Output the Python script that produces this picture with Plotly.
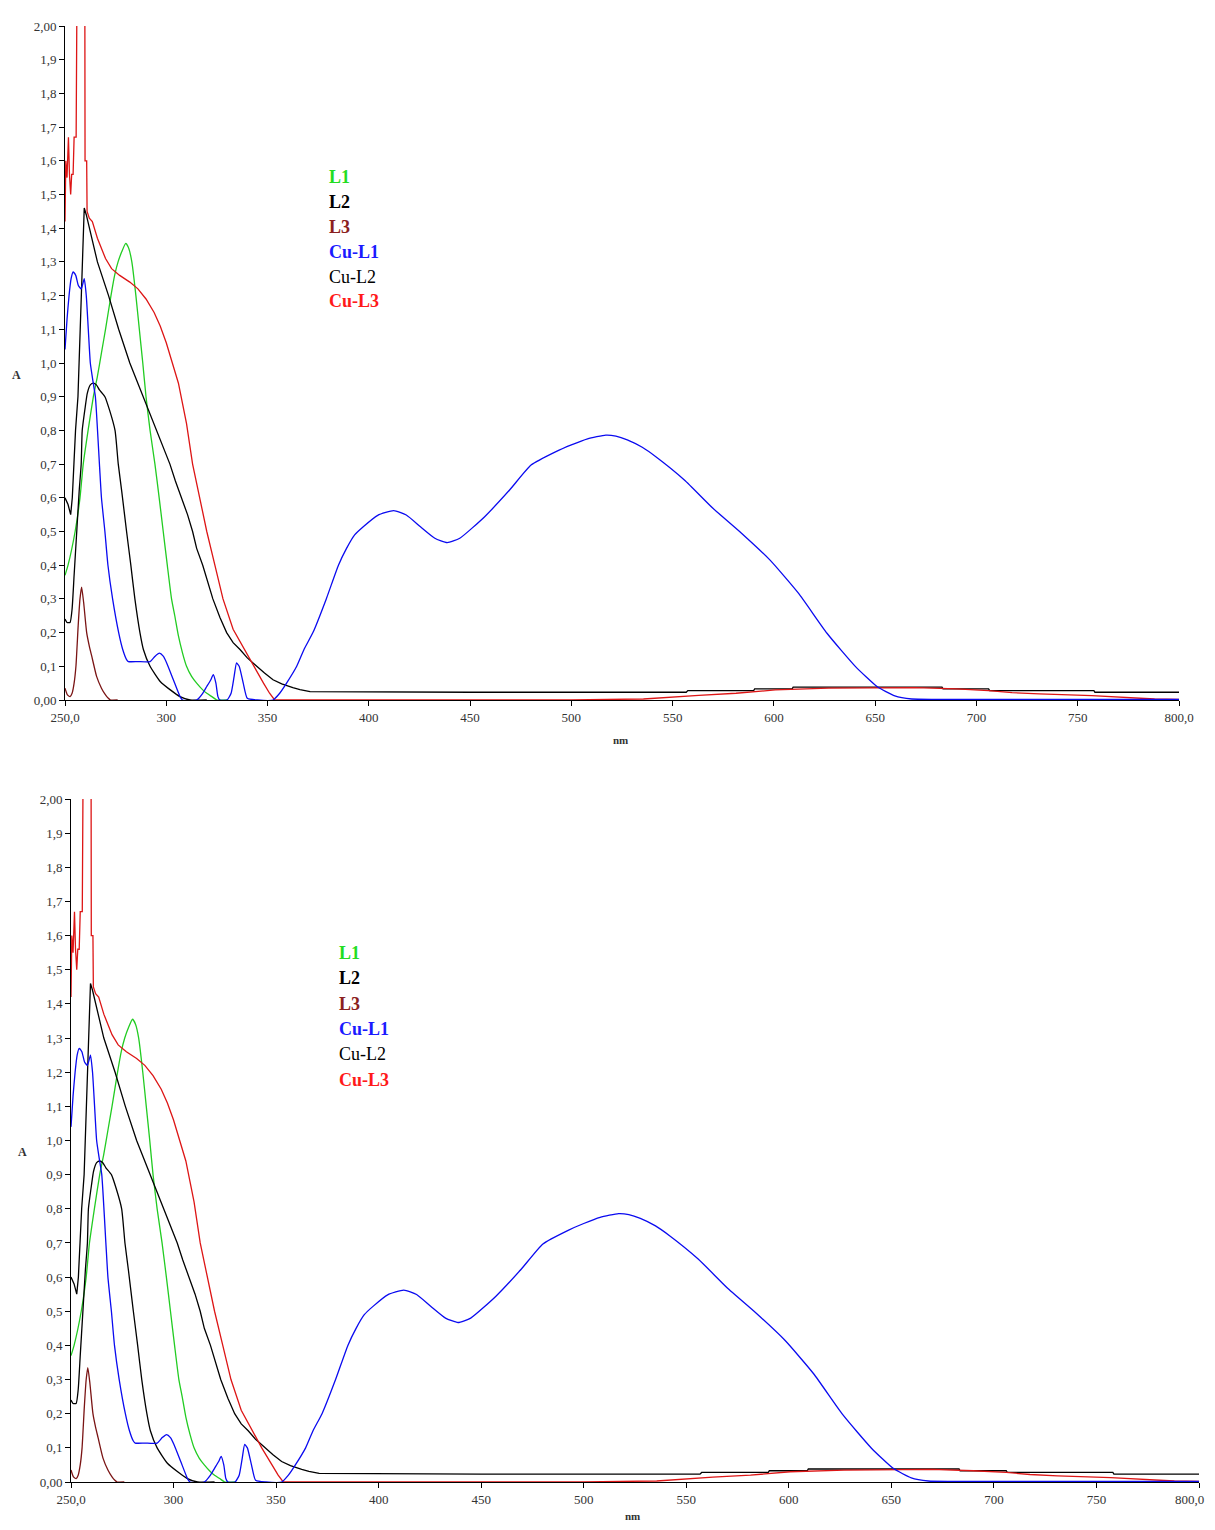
import plotly.graph_objects as go

# ---------------- data ----------------
L1_nm = [250, 251.5, 255, 257.4, 259, 261.4, 264, 266, 268, 270, 272.7, 274.5, 276.2, 278, 280,
         281.5, 283, 285, 286.7, 288.4, 290, 292, 294.4, 296.5, 298.5, 300.5, 302.6, 304.2, 306,
         308, 310, 312.5, 315, 318, 320, 322.5, 325, 330]
L1_A = [0.37, 0.40, 0.50, 0.60, 0.70, 0.80, 0.90, 0.96, 1.03, 1.10, 1.20, 1.26, 1.30, 1.33, 1.355,
        1.34, 1.30, 1.20, 1.10, 1.00, 0.90, 0.80, 0.70, 0.60, 0.50, 0.40, 0.30, 0.25, 0.19,
        0.14, 0.10, 0.07, 0.05, 0.03, 0.02, 0.01, 0.0, 0.0]

L2_nm = [250, 251, 252.5, 253.5, 254.5, 255.8, 257, 258, 258.5, 260, 261, 262.5, 264, 265.5, 267,
         269.7, 272, 274.7, 276.3, 278, 280.4, 282.5, 284.5, 287, 288.7, 292, 297, 302, 306.8,
         311.7, 320]
L2_A = [0.24, 0.23, 0.23, 0.27, 0.37, 0.50, 0.62, 0.70, 0.80, 0.87, 0.91, 0.935, 0.94, 0.935, 0.92,
        0.90, 0.86, 0.80, 0.70, 0.62, 0.50, 0.40, 0.30, 0.20, 0.15, 0.10, 0.055, 0.03, 0.01,
        0.0, 0.0]

L3_nm = [250, 251.2, 252.5, 253.5, 254.5, 255.4, 256.5, 257.4, 258.2, 259.2, 260.7, 262, 263.2,
         265.6, 268, 270, 271.4, 272.5, 276]
L3_A = [0.035, 0.015, 0.01, 0.02, 0.05, 0.10, 0.22, 0.30, 0.335, 0.29, 0.20, 0.16, 0.13,
        0.07, 0.035, 0.015, 0.005, 0.0, 0.0]

CuL1_nm = [250, 251, 252, 253, 254, 255.3, 256.6, 258, 259.5, 260.5, 261.5, 262.5, 263.7, 265,
           267, 268, 269.7, 271.2, 273.5, 276.5, 278.5, 280.4, 281.3, 286, 292, 294.5, 296.6,
           298.5, 300.2, 303.5, 306.8, 308, 315, 318, 320, 322, 323.2, 324.5, 325.5, 326.5,
           330, 332, 333.5, 334.7, 336, 338, 340, 345, 352.7, 356, 359.4, 364.4, 368, 372.4,
           379, 385, 389, 393, 397.4, 404.4, 412.3, 418.5, 425.5, 432.6, 438.7, 444.9, 457.2,
           469.5, 480.1, 492.4, 500, 508, 517, 522, 527.6, 535, 541.7, 555.8, 569.9, 584, 598.1,
           612.1, 626.2, 640.3, 650.9, 659.7, 668, 680, 800]
CuL1_A = [1.04, 1.13, 1.20, 1.25, 1.27, 1.26, 1.23, 1.22, 1.25, 1.20, 1.10, 1.00, 0.95, 0.90,
          0.70, 0.60, 0.50, 0.40, 0.30, 0.20, 0.15, 0.12, 0.114, 0.114, 0.114, 0.13, 0.139,
          0.13, 0.11, 0.06, 0.01, 0.0, 0.0, 0.02, 0.04, 0.06, 0.075, 0.05, 0.01, 0.0,
          0.0, 0.02, 0.07, 0.11, 0.10, 0.05, 0.005, 0.0, 0.0, 0.02, 0.05, 0.10, 0.15, 0.20,
          0.30, 0.40, 0.45, 0.49, 0.515, 0.548, 0.562, 0.549, 0.514, 0.48, 0.467, 0.48, 0.544,
          0.623, 0.697, 0.737, 0.757, 0.775, 0.786, 0.783, 0.772, 0.75, 0.722, 0.653, 0.569,
          0.495, 0.415, 0.317, 0.198, 0.099, 0.04, 0.012, 0.003, 0.002, 0.002]

CuL2_nm = [250, 251.5, 252.8, 253.6, 254.4, 255.2, 256.4, 257.4, 258.5, 259.5, 260.5, 262, 266,
           271.5, 276.5, 282, 288.5, 292, 295, 298.5, 301.8, 304.5, 307.6, 310.5, 313, 315, 318,
           320.5, 323, 326.5, 329.8, 333, 336.4, 340, 344.6, 348.5, 352.7, 357, 362.5, 366, 371,
           400, 450, 500, 556.7, 557.5, 590, 590.5, 609, 609.5, 683, 683.5, 706, 706.5, 758,
           758.5, 800]
CuL2_A = [0.60, 0.58, 0.55, 0.60, 0.70, 0.80, 0.90, 1.10, 1.30, 1.46, 1.44, 1.40, 1.30,
          1.20, 1.10, 1.00, 0.90, 0.85, 0.80, 0.75, 0.70, 0.65, 0.60, 0.55, 0.50, 0.45, 0.40,
          0.35, 0.30, 0.245, 0.20, 0.17, 0.15, 0.125, 0.10, 0.08, 0.06, 0.048, 0.037, 0.031, 0.025,
          0.024, 0.023, 0.023, 0.023, 0.028, 0.028, 0.033, 0.033, 0.038, 0.038, 0.033, 0.033, 0.028,
          0.028, 0.023, 0.023]

CuL3_nm = [250, 250.4, 251, 251.7, 252.2, 252.8, 253.3, 254, 254.5, 255.5, 256, 256.1, 259.7,
           259.9, 260.7, 260.9, 262, 263.5, 266, 268, 270, 273, 277, 282, 286, 290, 294, 297,
           300, 303, 306, 308, 310, 313, 316.5, 320, 324, 328, 333, 338.5, 343, 348, 351, 353.5,
           400, 500, 535.6, 550.5, 562.9, 581.3, 591, 600.7, 627, 651, 670, 690, 706, 717.6,
           731, 757, 772, 788, 800]
CuL3_A = [1.42, 1.60, 1.55, 1.67, 1.56, 1.50, 1.56, 1.56, 1.67, 1.67, 2.2, 2.5, 2.5,
          1.60, 1.60, 1.45, 1.43, 1.42, 1.37, 1.34, 1.31, 1.28, 1.26, 1.24, 1.22, 1.19, 1.15, 1.11,
          1.06, 1.00, 0.94, 0.88, 0.82, 0.70, 0.60, 0.50, 0.40, 0.30, 0.21, 0.15, 0.10, 0.05, 0.02, 0.0,
          0.0, 0.0, 0.003, 0.01, 0.014, 0.02, 0.025, 0.03, 0.035, 0.037, 0.037, 0.033, 0.028, 0.022,
          0.018, 0.013, 0.008, 0.003, 0.002]

y_ticks = [round(i * 0.1, 1) for i in range(21)]
y_ticktext = ["0,00"] + [f"{v:.1f}".replace(".", ",") for v in y_ticks[1:-1]] + ["2,00"]
x_ticks = list(range(250, 801, 50))
x_ticktext = ["250,0"] + [str(v) for v in x_ticks[1:-1]] + ["800,0"]

legend_names = ["L1", "L2", "L3", "Cu-L1", "Cu-L2", "Cu-L3"]
legend_colors = ["#22dd22", "#000000", "#8b2020", "#1a1aff", "#000000", "#ff1a1a"]
legend_bold = [True, True, True, True, False, True]

# (x, y, colour, shape)
series = [
    (L1_nm, L1_A, "#22cc22", "spline"),
    (L2_nm, L2_A, "#000000", "spline"),
    (L3_nm, L3_A, "#7a1414", "spline"),
    (CuL2_nm, CuL2_A, "#000000", "linear"),
    (CuL3_nm, CuL3_A, "#dd1515", "linear"),
    (CuL1_nm, CuL1_A, "#0a0af0", "spline"),
]

# the page body has an 8 px margin; positions below are page pixels
OFF = 8
W, H = 1215 - OFF, 1530 - 2 * OFF
fig = go.Figure()

panels = [
    ("x", "y", 65, 1179, 26, 700, 327, 177, 24.9, (16, 375), (620, 740), False),
    ("x2", "y2", 71, 1199, 799, 1482, 337, 953, 25.3, (22, 1152), (632, 1516), True),
]

font_fam = "Liberation Serif, Times New Roman, serif"
tick_font = dict(family=font_fam, size=13, color="#333333")


def px(x):
    return (x - OFF) / W


def py(y):
    return 1 - (y - OFF) / H


for i, (xa, ya, xl, xr, yt, yb, lx, ly, ldy, apos, nmpos, last_as_note) in enumerate(panels):
    for nm, A, col, shp in series:
        line = dict(color=col, width=1.3, shape=shp)
        if shp == "spline":
            line["smoothing"] = 0.5
        fig.add_trace(go.Scatter(x=nm, y=A, mode="lines", xaxis=xa, yaxis=ya,
                                 line=line, showlegend=False, hoverinfo="skip"))
    suffix = "" if i == 0 else "2"
    axis_common = dict(showgrid=False, zeroline=False, showline=True, linecolor="black",
                       linewidth=1, ticks="outside", ticklen=5, tickcolor="black",
                       automargin=False, tickfont=tick_font)
    xt = list(x_ticktext)
    if last_as_note:
        xt[-1] = ""
    fig.update_layout(**{
        "xaxis" + suffix: dict(domain=[px(xl), px(xr)], range=[250, 800], anchor="y" + suffix,
                               tickvals=x_ticks, ticktext=xt, **axis_common),
        "yaxis" + suffix: dict(domain=[py(yb), py(yt)], range=[0, 2], anchor="x" + suffix,
                               tickvals=y_ticks, ticktext=y_ticktext, **axis_common),
    })
    if last_as_note:
        # last tick label kept inside the visible page
        fig.add_annotation(x=px(1206), y=py(yb + 17), xref="paper", yref="paper",
                           text=x_ticktext[-1], showarrow=False, xanchor="right",
                           yanchor="middle", font=tick_font)
    for k, name in enumerate(legend_names):
        txt = f"<b>{name}</b>" if legend_bold[k] else name
        fig.add_annotation(x=px(lx), y=py(ly + k * ldy), xref="paper", yref="paper",
                           text=txt, showarrow=False, xanchor="left", yanchor="middle",
                           font=dict(family=font_fam, size=18, color=legend_colors[k]))
    fig.add_annotation(x=px(apos[0]), y=py(apos[1]), xref="paper", yref="paper",
                       text="<b>A</b>", showarrow=False, xanchor="center", yanchor="middle",
                       font=dict(family=font_fam, size=12, color="#333333"))
    fig.add_annotation(x=px(nmpos[0]), y=py(nmpos[1]), xref="paper", yref="paper",
                       text="<b>nm</b>", showarrow=False, xanchor="center", yanchor="middle",
                       font=dict(family=font_fam, size=11, color="#333333"))

fig.update_layout(template="none", width=W, height=H, margin=dict(l=0, r=0, t=0, b=0, pad=0),
                  paper_bgcolor="white", plot_bgcolor="white")

fig.write_html("out.html")
